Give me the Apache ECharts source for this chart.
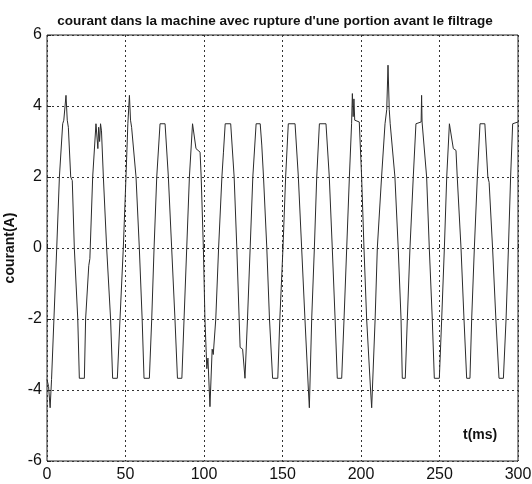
<!DOCTYPE html>
<html>
<head>
<meta charset="utf-8">
<script src="https://cdn.jsdelivr.net/npm/echarts@6/dist/echarts.min.js"></script>
<style>
html,body{margin:0;padding:0;background:#fff;}
#c{width:532px;height:484px;}
</style>
</head>
<body>
<div id="c"></div>
<script>
const titleText = "courant dans la machine avec rupture d'une portion avant le filtrage";
const yLabel = "courant(A)";
const xLabel = "t(ms)";
const xTicks = [0, 50, 100, 150, 200, 250, 300];
const yTicks = [-6, -4, -2, 0, 2, 4, 6];

const times = [
  0, 1.0, 2.0, 2.9, 6.2, 7.9, 10.0, 10.7, 12.1, 12.9, 13.6, 15.1, 16.1, 17.4, 19.6, 20.6, 23.8,
  24.6, 26.6, 27.3, 29.1, 31.2, 32.0, 32.4, 32.9, 33.5, 34.1, 34.7, 35.9, 38.0, 40.5, 41.8, 44.8,
  46.5, 48.6, 50.3, 51.5, 52.5, 53.2, 53.9, 56.7, 58.8, 60.6, 61.8, 65.2,
  66.7, 68.2, 69.9, 72.0, 75.2, 77.3, 79.4, 81.5, 83.1, 85.9,
  87.3, 89.0, 90.7, 92.7, 93.3, 94.9, 97.5, 98.2, 99.6, 100.6, 101.8, 102.5, 103.8, 105.2, 105.9,
  107.5, 109.3, 111.4, 112.4, 113.5, 117.0, 119.2, 120.9, 122.4, 123.0, 124.6, 126.1, 126.5,
  127.7, 129.4, 131.1, 133.2, 135.8, 136.8, 137.9, 140.0, 141.7, 143.7, 147.0,
  148.3, 150.3, 152.0, 153.7, 158.0, 160.1, 162.2, 164.3, 166.5, 167.1,
  168.6, 170.3, 171.8, 173.5, 177.7, 179.8, 181.7, 183.5, 184.9, 187.7,
  189.2, 190.9, 192.6, 194.0, 194.5, 195.0, 195.5, 196.0, 196.8, 198.9, 200.4, 201.9, 203.6, 206.1, 206.8,
  209.0, 210.4, 213.1, 215.3, 216.4, 217.2, 218.0, 218.6, 221.6, 223.7, 225.5, 226.3, 228.2,
  229.5, 231.2, 233.3, 235.0, 238.3, 238.6, 238.9, 239.7, 241.8, 243.5, 245.4, 246.7, 249.9,
  251.4, 253.1, 254.6, 256.3, 256.7, 258.8, 260.5, 261.3, 263.7, 265.6, 267.3, 269.4,
  270.5, 272.2, 274.1, 275.8, 278.9, 280.8, 281.6, 283.8, 285.9, 287.9, 290.7,
  292.4, 293.9, 295.3, 296.6, 300
];
const current = [
  -3.7, -3.9, -4.5, -3.7, 0, 2.0, 3.5, 3.6, 4.3, 3.6, 3.4, 2.0, 1.9, 0, -2.0, -3.67, -3.67,
  -2.0, -0.5, -0.3, 2.0, 3.5, 3.5, 2.8, 3.4, 3.0, 3.5, 3.3, 2.0, 0, -2.0, -3.67, -3.67,
  -2.0, 0, 2.0, 3.5, 4.3, 3.6, 3.4, 2.0, 0, -2.0, -3.67, -3.67,
  -2.0, 0, 2.0, 3.5, 3.5, 2.0, 0, -2.0, -3.67, -3.67,
  -2.0, 0, 2.0, 3.5, 3.55, 2.8, 2.7, 2.0, 0, -2.0, -3.4, -3.1, -4.47, -2.85, -3.0,
  -2.0, 0, 2.0, 2.7, 3.5, 3.5, 2.0, 0, -2.0, -2.8, -2.85, -3.67, -3.67,
  -2.0, 0, 2.0, 3.5, 3.5, 2.9, 2.0, 0, -2.0, -3.67, -3.67,
  -2.0, 0, 2.0, 3.5, 3.5, 2.0, 0, -2.0, -4.0, -4.5,
  -2.0, 0, 2.0, 3.5, 3.5, 2.0, 0, -2.0, -3.67, -3.67,
  -2.0, 0, 2.0, 3.5, 4.35, 3.7, 4.2, 3.6, 3.55, 3.55, 2.0, 0, -2.0, -4.0, -4.5,
  -2.0, 0, 2.0, 3.5, 3.9, 5.15, 3.9, 3.5, 2.0, 0, -2.0, -3.67, -3.67,
  -2.0, 0, 2.0, 3.5, 3.55, 4.3, 3.55, 3.55, 2.0, 0, -2.0, -3.67, -3.67,
  -2.0, 0, 2.0, 3.5, 3.55, 2.8, 2.75, 2.0, 0, -2.0, -3.67, -3.67,
  -2.0, 0, 2.0, 3.5, 3.5, 2.0, 1.85, 0, -2.0, -3.67, -3.67,
  -2.0, 0, 2.0, 3.5, 3.55
];

const data = times.map((t, i) => [t, current[i]]);
const chart = echarts.init(document.getElementById('c'), null, {renderer: 'canvas'});
const font = "'Liberation Sans', Arial, sans-serif";
chart.setOption({
  backgroundColor: '#ffffff',
  animation: false,
  title: {
    text: titleText,
    left: 270, top: 9, textAlign: 'center',
    textStyle: {fontFamily: font, fontSize: 13.5, fontWeight: 'bold', color: '#111'}
  },
  grid: {
    left: 47, right: 14, top: 35, bottom: 23,
    containLabel: false, outerBoundsMode: 'none',
    show: true, borderColor: '#222', borderWidth: 1, backgroundColor: '#fff'
  },
  xAxis: {
    type: 'value', min: 0, max: 300, interval: 50,
    axisLine: {show: false},
    axisTick: {show: true, inside: true, length: 4, lineStyle: {color: '#222'}},
    axisLabel: {
      margin: 6, fontFamily: font, fontSize: 16, color: '#111',
      formatter: v => xTicks.includes(v) ? String(v) : ''
    },
    splitLine: {show: true, lineStyle: {type: [2, 3], color: '#333', width: 1}}
  },
  yAxis: {
    type: 'value', min: -6, max: 6, interval: 2,
    name: yLabel, nameLocation: 'middle', nameGap: 29, nameRotate: 90,
    nameTextStyle: {fontFamily: font, fontSize: 14, fontWeight: 'bold', color: '#111'},
    axisLine: {show: false},
    axisTick: {show: true, inside: true, length: 4, lineStyle: {color: '#222'}},
    axisLabel: {
      margin: 5, fontFamily: font, fontSize: 16, color: '#111',
      formatter: v => yTicks.includes(v) ? String(v) : ''
    },
    splitLine: {show: true, lineStyle: {type: [2, 3], color: '#333', width: 1}}
  },
  graphic: [{
    type: 'text', left: 463, top: 428,
    style: {text: xLabel, font: "bold 14px 'Liberation Sans', Arial, sans-serif", fill: '#111'}
  }],
  series: [{
    type: 'line', data: data, showSymbol: false, smooth: false,
    lineStyle: {color: '#2b2b2b', width: 1}
  }]
});
</script>
</body>
</html>
